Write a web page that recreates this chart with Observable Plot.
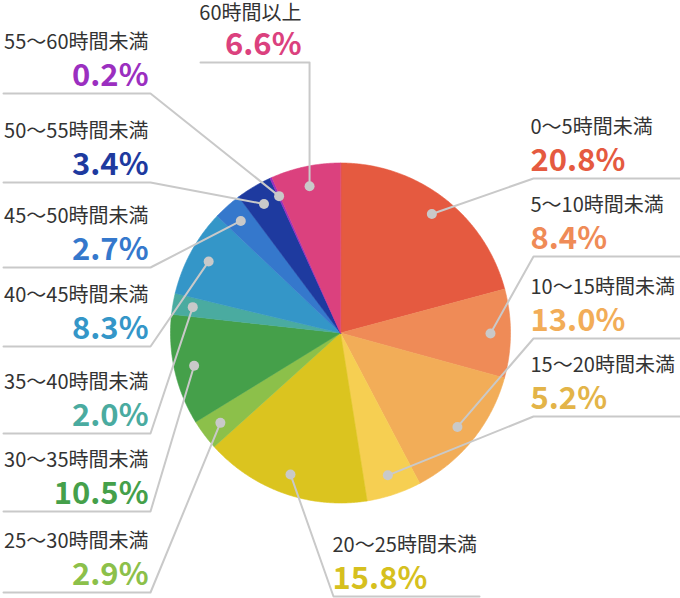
<!DOCTYPE html>
<html><head><meta charset="utf-8">
<script src="https://cdn.jsdelivr.net/npm/d3@7"></script>
<script src="https://cdn.jsdelivr.net/npm/@observablehq/plot@0.6"></script>
<style>
html,body{margin:0;padding:0;background:#fff}
#chart svg{display:block}
</style>
</head><body><div id="chart"></div>
<script>
// ---- data ----
const categories = ["0～5時間未満","5～10時間未満","10～15時間未満","15～20時間未満","20～25時間未満","25～30時間未満","30～35時間未満","35～40時間未満","40～45時間未満","45～50時間未満","50～55時間未満","55～60時間未満","60時間以上"];
const values = [20.8, 8.4, 13.0, 5.2, 15.8, 2.9, 10.5, 2.0, 8.3, 2.7, 3.4, 0.2, 6.6];
const valueLabels = ["20.8%","8.4%","13.0%","5.2%","15.8%","2.9%","10.5%","2.0%","8.3%","2.7%","3.4%","0.2%","6.6%"];

// ---- styles ----
const sliceColors = ["#e55a40","#ef8b57","#f2ad58","#f6cf52","#dbc41f","#8cc04a","#45a04a","#4aaba0","#3496c8","#3578cc","#1e3a9f","#9b2fc0","#db417e"];
const labelColors = ["#e55a40","#ef8b57","#f2ad58","#e3b448","#d6c01e","#8cc04a","#45a04a","#4aaba0","#3496c8","#3578cc","#1e3a9f","#9b2fc0","#db417e"];

// ---- layout ----
const W = 680, H = 598;
const cx = 340, cy = 332.5, R = 170, dotRadius = 150;
const sides = ["right","right","right","right","bottom","left","left","left","left","left","left","left","top"];
const underlineY = [178, 256, 338, 416, 596, 592, 511, 433, 346, 267, 182, 93, 62];

const pie = d3.pie().sort(null).value(d => d)(values);
const pt = (a, r) => [cx + r * Math.sin(a), cy - r * Math.cos(a)];

// slice polygons
const slicePts = [];
pie.forEach((p, i) => {
  slicePts.push({k: i, x: cx, y: cy});
  const n = Math.max(2, Math.ceil((p.endAngle - p.startAngle) / (Math.PI / 360)));
  for (let j = 0; j <= n; j++) {
    const a = p.startAngle + (p.endAngle - p.startAngle) * j / n;
    const [x, y] = pt(a, R);
    slicePts.push({k: i, x, y});
  }
});

// dots at mid-angle
const dots = pie.map((p, i) => {
  const [x, y] = pt((p.startAngle + p.endAngle) / 2, dotRadius);
  return {k: i, x, y};
});

// leader lines
const leaderPts = [];
const labels = [];
dots.forEach((d, i) => {
  const u = underlineY[i], s = sides[i];
  let elbow, end, tx, anchor;
  if (s === "right") { elbow = [533, u]; end = [680, u]; tx = 530; anchor = "start"; }
  else if (s === "left") { elbow = [150, u]; end = [3, u]; tx = 148; anchor = "end"; }
  else if (s === "bottom") { elbow = [333, u]; end = [479, u]; tx = 332; anchor = "start"; }
  else { elbow = [d.x, u]; end = [200, u]; tx = 301; anchor = "end"; }
  leaderPts.push({k: i, x: d.x, y: d.y}, {k: i, x: elbow[0], y: elbow[1]}, {k: i, x: end[0], y: end[1]});
  labels.push({k: i, x: tx, anchor, titleY: u - (s === "top" ? 43 : 45), pctY: u - 8});
});

const font = "'Noto Sans CJK JP','Noto Sans',sans-serif";
const textFor = (anchor) => labels.filter(l => l.anchor === anchor);

const chart = Plot.plot({
  width: W, height: H, margin: 0,
  x: {domain: [0, W], range: [0, W]},
  y: {domain: [0, H], range: [0, H]},
  color: {type: "identity"},
  axis: null,
  style: {fontFamily: font, background: "#fff"},
  marks: [
    Plot.line(slicePts, {x: "x", y: "y", z: "k", curve: "linear-closed",
      fill: d => sliceColors[d.k], stroke: d => sliceColors[d.k], strokeWidth: 0.6}),
    Plot.line(leaderPts, {x: "x", y: "y", z: "k", stroke: "#c9c9c9", strokeWidth: 2, curve: "linear"}),
    Plot.dot(dots, {x: "x", y: "y", r: 5, fill: "#c9c9c9", stroke: null}),
    ...["start", "end"].flatMap(a => [
      Plot.text(textFor(a), {x: "x", y: "titleY", text: d => categories[d.k], textAnchor: a,
        lineAnchor: "bottom", fontSize: 20, fill: "#333", fontFamily: font}),
      Plot.text(textFor(a), {x: "x", y: "pctY", text: d => valueLabels[d.k], textAnchor: a,
        lineAnchor: "bottom", fontSize: 31, fontWeight: "bold", fill: d => labelColors[d.k], fontFamily: font})
    ])
  ]
});
document.getElementById("chart").appendChild(chart);
</script>
</body></html>
